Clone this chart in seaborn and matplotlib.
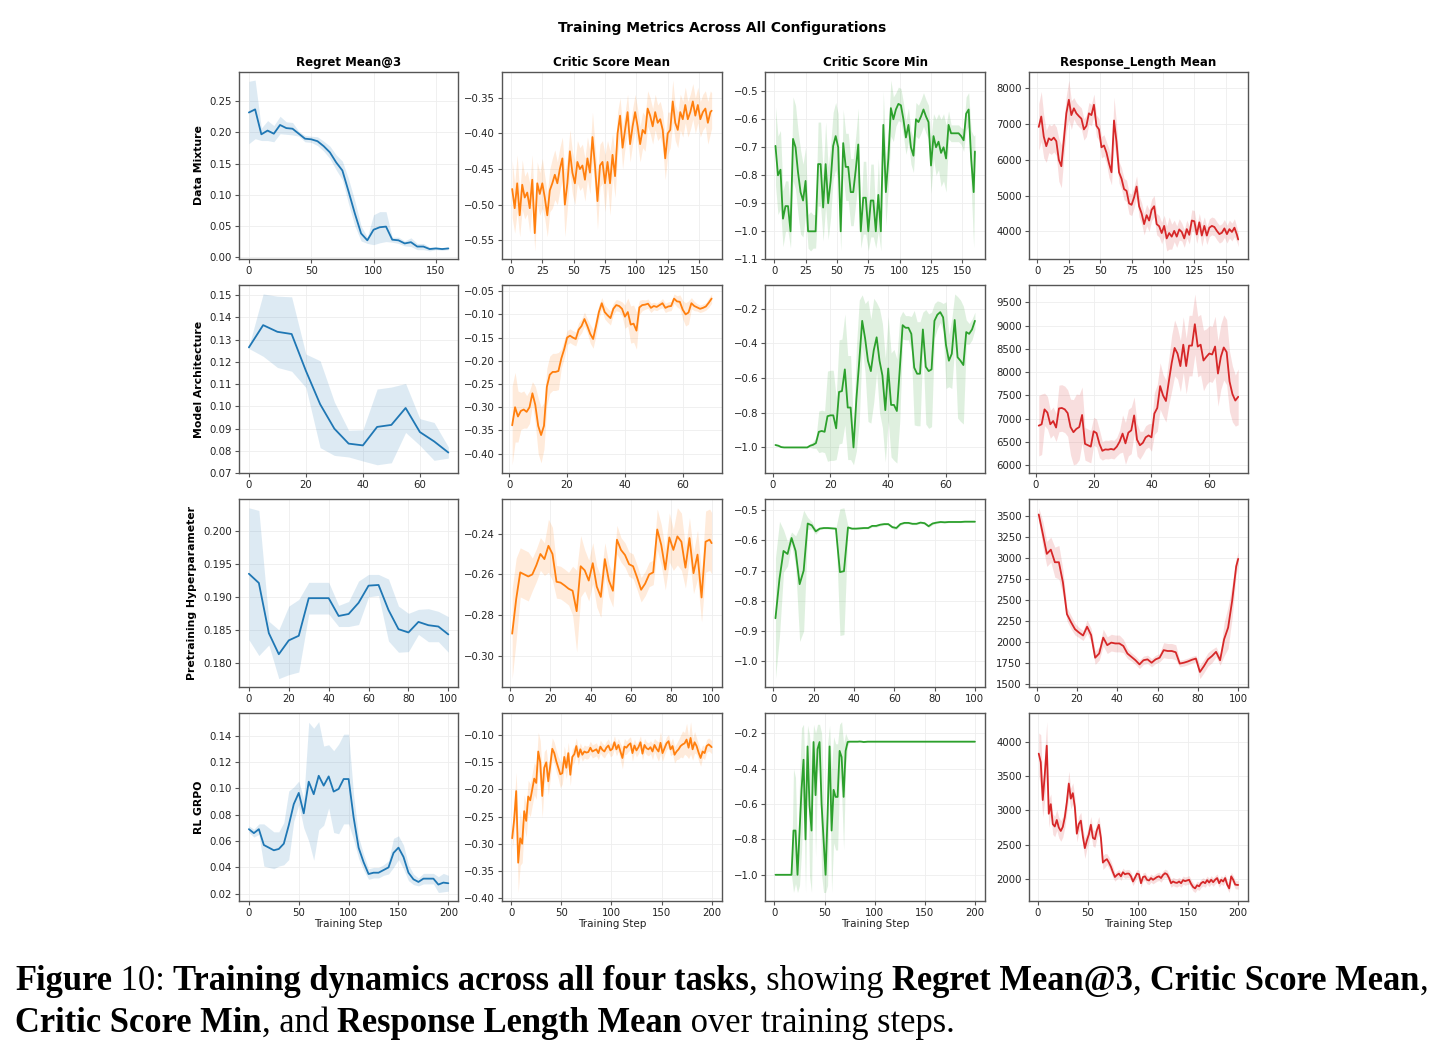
import numpy as np
import matplotlib
matplotlib.use("Agg")
import matplotlib.pyplot as plt
import seaborn as sns
from matplotlib.font_manager import FontProperties

# ---------------------------------------------------------------- data
ROWS = ["Data Mixture", "Model Architecture", "Pretraining Hyperparameter", "RL GRPO"]
COLS = ["Regret Mean@3", "Critic Score Mean", "Critic Score Min", "Response_Length Mean"]
COLORS = ["#1f77b4", "#ff7f0e", "#2ca02c", "#d62728"]

# ---- Data Mixture
DM_REGRET_STEPS = list(range(0, 161, 5))
DM_REGRET = [0.232, 0.237, 0.197, 0.203, 0.198, 0.212, 0.207, 0.206, 0.198, 0.190, 0.189, 0.186, 0.178,
             0.168, 0.152, 0.139, 0.105, 0.070, 0.038, 0.027, 0.044, 0.048, 0.049, 0.028, 0.027, 0.022,
             0.024, 0.017, 0.017, 0.013, 0.014, 0.013, 0.014]
DM_REGRET_SD = [0.050, 0.047, 0.010, 0.016, 0.013, 0.014, 0.010, 0.010, 0.004, 0.005, 0.005, 0.007, 0.008,
                0.010, 0.012, 0.015, 0.020, 0.020, 0.012, 0.005, 0.024, 0.025, 0.024, 0.004, 0.005, 0.004,
                0.007, 0.005, 0.005, 0.003, 0.002, 0.002, 0.002]
DM_STEPS = list(range(1, 160, 2)) + [160]
DM_CMEAN = [-0.478, -0.505, -0.470, -0.515, -0.472, -0.490, -0.483, -0.505, -0.465, -0.540,
            -0.470, -0.485, -0.470, -0.490, -0.515, -0.480, -0.470, -0.458, -0.470, -0.450,
            -0.435, -0.500, -0.470, -0.425, -0.455, -0.470, -0.440, -0.450, -0.445, -0.465,
            -0.435, -0.455, -0.405, -0.445, -0.495, -0.445, -0.440, -0.470, -0.440, -0.470,
            -0.430, -0.460, -0.400, -0.375, -0.420, -0.395, -0.370, -0.415, -0.390, -0.370,
            -0.390, -0.415, -0.395, -0.400, -0.365, -0.375, -0.390, -0.370, -0.385, -0.380,
            -0.395, -0.435, -0.400, -0.395, -0.355, -0.385, -0.395, -0.370, -0.380, -0.360,
            -0.380, -0.370, -0.355, -0.375, -0.360, -0.380, -0.370, -0.365, -0.385, -0.370,
            -0.368]
DM_CMEAN_SD = [0.040, 0.035, 0.040, 0.030, 0.035, 0.030, 0.030, 0.035, 0.035, 0.025,
               0.030, 0.030, 0.035, 0.030, 0.030, 0.030, 0.035, 0.035, 0.030, 0.030,
               0.030, 0.045, 0.035, 0.030, 0.030, 0.030, 0.030, 0.030, 0.030, 0.030,
               0.030, 0.030, 0.035, 0.030, 0.040, 0.030, 0.030, 0.040, 0.030, 0.045,
               0.030, 0.030, 0.030, 0.025, 0.030, 0.025, 0.025, 0.025, 0.025, 0.025,
               0.025, 0.025, 0.025, 0.025, 0.025, 0.025, 0.025, 0.025, 0.025, 0.025,
               0.025, 0.030, 0.030, 0.025, 0.030, 0.025, 0.025, 0.025, 0.025, 0.025,
               0.025, 0.025, 0.025, 0.025, 0.025, 0.025, 0.025, 0.025, 0.030, 0.030,
               0.025]
DM_CMIN = [-0.695, -0.80, -0.78, -0.955, -0.91, -0.91, -1.0, -0.67, -0.70, -0.79,
           -0.86, -0.89, -0.82, -1.0, -1.0, -1.0, -1.0, -0.76, -0.76, -0.915,
           -0.76, -0.90, -0.82, -0.695, -0.66, -0.70, -1.0, -0.685, -0.77, -0.77,
           -0.86, -0.86, -0.78, -0.69, -1.0, -0.88, -0.88, -1.0, -0.89, -0.89,
           -1.0, -0.87, -1.0, -0.62, -0.86, -0.74, -0.56, -0.60, -0.565, -0.545,
           -0.55, -0.60, -0.665, -0.62, -0.70, -0.73, -0.60, -0.61, -0.59, -0.565,
           -0.59, -0.61, -0.765, -0.66, -0.70, -0.68, -0.72, -0.70, -0.74, -0.62,
           -0.65, -0.65, -0.65, -0.65, -0.66, -0.675, -0.58, -0.565, -0.74, -0.86,
           -0.715]
DM_CMIN_SD = [0.14, 0.14, 0.14, 0.10, 0.09, 0.09, 0.06, 0.15, 0.15, 0.15,
              0.15, 0.13, 0.12, 0.06, 0.07, 0.06, 0.06, 0.15, 0.15, 0.12,
              0.15, 0.13, 0.13, 0.12, 0.12, 0.12, 0.07, 0.12, 0.12, 0.12,
              0.12, 0.12, 0.12, 0.13, 0.06, 0.13, 0.13, 0.07, 0.13, 0.13,
              0.06, 0.13, 0.07, 0.12, 0.12, 0.10, 0.10, 0.08, 0.06, 0.06,
              0.06, 0.06, 0.06, 0.06, 0.06, 0.06, 0.06, 0.06, 0.06, 0.06,
              0.06, 0.06, 0.10, 0.08, 0.10, 0.10, 0.12, 0.12, 0.12, 0.05,
              0.03, 0.03, 0.03, 0.03, 0.03, 0.04, 0.06, 0.06, 0.10, 0.20,
              0.06]
DM_RLEN = [6920, 7210, 6650, 6380, 6600, 6550, 6620, 6520, 6000, 5820,
           6550, 7300, 7680, 7250, 7440, 7300, 7220, 7150, 6850, 6950,
           7300, 7250, 7540, 6950, 6850, 6350, 6400, 6200, 5900, 5650,
           7100, 6500, 5650, 5470, 5180, 5130, 4780, 4740, 4950, 5250,
           4700, 4500, 4200, 4450, 4300, 4600, 4700, 4200, 4140, 3950,
           4150, 3800, 3950, 3850, 4010, 3850, 4050, 3980, 3800, 4060,
           3900, 4300, 4280, 3910, 4250, 3880, 4150, 3880, 4100, 4150,
           4120, 4010, 3920, 3960, 4080, 3920, 4060, 3980, 4100, 3900,
           3770]
DM_RLEN_SD = [650, 700, 600, 450, 400, 400, 400, 400, 600, 600,
              500, 500, 550, 400, 300, 300, 300, 300, 300, 300,
              300, 300, 300, 300, 300, 300, 300, 300, 400, 350,
              650, 500, 300, 300, 300, 300, 300, 300, 300, 300,
              300, 300, 300, 300, 300, 300, 300, 300, 300, 300,
              300, 350, 450, 350, 300, 300, 300, 250, 250, 250,
              250, 300, 300, 250, 250, 300, 250, 250, 250, 250,
              250, 250, 250, 250, 250, 250, 250, 250, 250, 200,
              200]

# ---- Model Architecture
MA_REGRET_STEPS = list(range(0, 71, 5))
MA_REGRET = [0.1265, 0.1365, 0.1335, 0.1325, 0.116, 0.101, 0.090, 0.0833, 0.0825, 0.0908, 0.0917,
             0.0993, 0.0885, 0.0843, 0.0793]
MA_REGRET_SD = [0.0005, 0.014, 0.016, 0.0167, 0.0075, 0.0195, 0.012, 0.006, 0.007, 0.017, 0.017,
                0.011, 0.006, 0.0085, 0.0025]
MA_STEPS = list(range(1, 71))
MA_CMEAN = [-0.339, -0.30, -0.32, -0.308, -0.305, -0.31, -0.30, -0.27, -0.295, -0.34,
            -0.36, -0.34, -0.256, -0.23, -0.224, -0.224, -0.222, -0.195, -0.175, -0.15,
            -0.146, -0.15, -0.153, -0.133, -0.125, -0.11, -0.125, -0.142, -0.153, -0.125,
            -0.095, -0.076, -0.095, -0.102, -0.108, -0.088, -0.08, -0.082, -0.088, -0.105,
            -0.095, -0.122, -0.12, -0.135, -0.085, -0.08, -0.079, -0.077, -0.086, -0.082,
            -0.084, -0.08, -0.076, -0.086, -0.083, -0.082, -0.066, -0.072, -0.073, -0.09,
            -0.10, -0.096, -0.076, -0.082, -0.085, -0.088, -0.086, -0.083, -0.075, -0.066]
MA_CMEAN_SD = [0.085, 0.075, 0.055, 0.04, 0.04, 0.035, 0.035, 0.025, 0.04, 0.06,
               0.06, 0.05, 0.04, 0.04, 0.04, 0.04, 0.04, 0.02, 0.02, 0.015,
               0.015, 0.015, 0.015, 0.015, 0.015, 0.015, 0.015, 0.02, 0.02, 0.02,
               0.015, 0.012, 0.015, 0.015, 0.015, 0.012, 0.012, 0.012, 0.015, 0.025,
               0.03, 0.04, 0.04, 0.04, 0.015, 0.012, 0.01, 0.01, 0.01, 0.008,
               0.008, 0.008, 0.01, 0.01, 0.01, 0.01, 0.01, 0.012, 0.015, 0.02,
               0.025, 0.025, 0.012, 0.01, 0.008, 0.008, 0.008, 0.008, 0.01, 0.01]
MA_CMIN = [-0.986, -0.99, -0.998, -1.0, -1.0, -1.0, -1.0, -1.0, -1.0, -1.0,
           -1.0, -1.0, -0.99, -0.985, -0.975, -0.91, -0.905, -0.91, -0.82, -0.815,
           -0.815, -0.89, -0.68, -0.675, -0.55, -0.77, -0.77, -1.0, -0.72, -0.5,
           -0.27, -0.37, -0.50, -0.56, -0.44, -0.365, -0.5, -0.585, -0.785, -0.545,
           -0.755, -0.755, -0.79, -0.55, -0.295, -0.31, -0.31, -0.345, -0.54, -0.575,
           -0.575, -0.32, -0.535, -0.56, -0.55, -0.27, -0.235, -0.22, -0.25, -0.41,
           -0.50, -0.46, -0.265, -0.48, -0.50, -0.525, -0.335, -0.345, -0.32, -0.27]
MA_CMIN_SD = [0.005, 0.005, 0.003, 0.002, 0.002, 0.002, 0.002, 0.002, 0.002, 0.002,
              0.002, 0.002, 0.01, 0.02, 0.03, 0.12, 0.12, 0.12, 0.26, 0.26,
              0.26, 0.18, 0.3, 0.3, 0.32, 0.3, 0.3, 0.1, 0.3, 0.35,
              0.15, 0.2, 0.35, 0.3, 0.3, 0.2, 0.3, 0.3, 0.3, 0.3,
              0.3, 0.32, 0.3, 0.3, 0.08, 0.07, 0.07, 0.1, 0.33, 0.3,
              0.3, 0.1, 0.33, 0.33, 0.33, 0.1, 0.08, 0.06, 0.08, 0.25,
              0.15, 0.2, 0.15, 0.35, 0.35, 0.34, 0.07, 0.06, 0.06, 0.05]
MA_RLEN = [6850, 6880, 7200, 7130, 6880, 6950, 6810, 7220, 7230, 7200,
           7120, 6820, 6710, 6780, 6820, 7080, 6460, 6430, 6400, 6730,
           6690, 6460, 6310, 6340, 6335, 6350, 6335, 6400, 6510, 6680,
           6470, 6700, 6750, 7070, 6550, 6430, 6480, 6600, 6640, 6600,
           7110, 7230, 7700, 7500, 7380, 7800, 8200, 8520, 8400, 8130,
           8590, 8130, 8570, 8570, 9030, 8550, 8590, 8250, 8330, 8400,
           8380, 8550, 7970, 8330, 8530, 8430, 7800, 7530, 7390, 7470]
MA_RLEN_SD = [650, 650, 350, 350, 300, 300, 300, 500, 500, 500,
              500, 600, 700, 750, 700, 600, 350, 350, 350, 300,
              300, 300, 200, 200, 200, 200, 200, 200, 250, 400,
              450, 500, 500, 400, 350, 300, 250, 250, 250, 300,
              450, 500, 500, 450, 450, 500, 600, 600, 550, 550,
              600, 600, 650, 650, 650, 650, 650, 650, 600, 600,
              600, 650, 700, 700, 700, 700, 650, 600, 550, 600]

# ---- Pretraining Hyperparameter
PH_REGRET_STEPS = list(range(0, 101, 5))
PH_REGRET = [0.1935, 0.1921, 0.1845, 0.1813, 0.1834, 0.1841, 0.1898, 0.1898, 0.1898, 0.1871, 0.1874,
             0.1891, 0.1917, 0.1918, 0.1880, 0.1851, 0.1846, 0.1862, 0.1857, 0.1855, 0.1843]
PH_REGRET_SD = [0.010, 0.011, 0.0018, 0.0037, 0.0052, 0.0055, 0.0024, 0.0024, 0.0024, 0.0016, 0.0019,
                0.0033, 0.0017, 0.0016, 0.0047, 0.0035, 0.0029, 0.0019, 0.0025, 0.0023, 0.0027]
PH_STEPS = list(range(1, 100, 2)) + [100]
PH_CMEAN = [-0.289, -0.272, -0.259, -0.260, -0.261, -0.260, -0.2555, -0.250, -0.2525, -0.246,
            -0.250, -0.2636, -0.264, -0.2654, -0.267, -0.268, -0.278, -0.256, -0.258, -0.263,
            -0.2545, -0.266, -0.271, -0.2525, -0.263, -0.268, -0.243, -0.248, -0.2505, -0.255,
            -0.256, -0.2615, -0.2675, -0.2645, -0.260, -0.259, -0.238, -0.2456, -0.2576, -0.2419,
            -0.248, -0.2414, -0.244, -0.2567, -0.2422, -0.2594, -0.2503, -0.2713, -0.244, -0.243,
            -0.2447]
PH_CMEAN_SD = [0.022, 0.02, 0.012, 0.012, 0.012, 0.008, 0.008, 0.008, 0.008, 0.013,
               0.013, 0.008, 0.008, 0.008, 0.008, 0.012, 0.02, 0.015, 0.01, 0.01,
               0.01, 0.01, 0.01, 0.008, 0.008, 0.008, 0.007, 0.006, 0.006, 0.006,
               0.006, 0.006, 0.006, 0.006, 0.006, 0.006, 0.01, 0.01, 0.01, 0.012,
               0.01, 0.014, 0.014, 0.01, 0.01, 0.01, 0.012, 0.012, 0.015, 0.015,
               0.015]
PH_CMIN = [-0.858, -0.727, -0.635, -0.645, -0.592, -0.635, -0.745, -0.70, -0.544, -0.550,
           -0.570, -0.561, -0.559, -0.559, -0.560, -0.561, -0.705, -0.702, -0.557, -0.561,
           -0.561, -0.560, -0.559, -0.559, -0.552, -0.552, -0.548, -0.546, -0.546, -0.556,
           -0.559, -0.546, -0.542, -0.542, -0.545, -0.545, -0.541, -0.543, -0.553, -0.544,
           -0.541, -0.539, -0.540, -0.539, -0.539, -0.539, -0.539, -0.538, -0.538, -0.538,
           -0.538]
PH_CMIN_SD = [0.2, 0.19, 0.07, 0.04, 0.02, 0.05, 0.19, 0.2, 0.02, 0.012,
              0.01, 0.003, 0.003, 0.003, 0.003, 0.003, 0.21, 0.21, 0.004, 0.003,
              0.003, 0.003, 0.003, 0.003, 0.004, 0.004, 0.004, 0.004, 0.004, 0.005,
              0.005, 0.004, 0.003, 0.003, 0.003, 0.003, 0.003, 0.004, 0.005, 0.004,
              0.003, 0.003, 0.003, 0.002, 0.002, 0.002, 0.002, 0.002, 0.002, 0.002,
              0.002]
PH_RLEN = [3520, 3290, 3050, 3100, 2950, 2950, 2710, 2330, 2235, 2150,
           2110, 2075, 2180, 2080, 1810, 1860, 2050, 1960, 1990, 1980,
           1980, 1950, 1860, 1820, 1780, 1730, 1780, 1790, 1750, 1790,
           1810, 1900, 1890, 1890, 1875, 1740, 1750, 1765, 1785, 1800,
           1640, 1710, 1790, 1830, 1880, 1780, 2030, 2170, 2490, 2900,
           2990]
PH_RLEN_SD = [80, 150, 150, 150, 180, 200, 150, 80, 80, 70,
              60, 60, 80, 80, 80, 80, 100, 100, 100, 100,
              100, 80, 60, 50, 50, 50, 50, 50, 50, 50,
              50, 90, 90, 90, 90, 40, 40, 40, 40, 40,
              80, 80, 80, 80, 60, 60, 200, 250, 200, 100,
              80]

# ---- RL GRPO
RL_REGRET_STEPS = list(range(0, 201, 5))
RL_REGRET = [0.069, 0.066, 0.069, 0.057, 0.055, 0.053, 0.054, 0.058, 0.072, 0.088,
             0.0965, 0.081, 0.105, 0.0955, 0.1095, 0.102, 0.109, 0.0975, 0.0995, 0.107,
             0.107, 0.078, 0.055, 0.044, 0.035, 0.036, 0.036, 0.038, 0.040, 0.051,
             0.055, 0.048, 0.036, 0.031, 0.029, 0.0315, 0.0315, 0.0315, 0.027, 0.0285,
             0.028]
RL_REGRET_SD = [0.0025, 0.003, 0.004, 0.016, 0.015, 0.014, 0.013, 0.016, 0.026, 0.013,
                0.009, 0.011, 0.045, 0.05, 0.041, 0.03, 0.024, 0.031, 0.034, 0.034,
                0.034, 0.017, 0.008, 0.006, 0.004, 0.004, 0.004, 0.004, 0.005, 0.011,
                0.009, 0.009, 0.006, 0.004, 0.003, 0.004, 0.004, 0.004, 0.006, 0.007,
                0.006]
RL_STEPS = list(range(1, 200, 2)) + [200]
RL_CMEAN = [-0.290, -0.255, -0.203, -0.335, -0.290, -0.300, -0.240, -0.258, -0.213, -0.220,
            -0.200, -0.180, -0.188, -0.130, -0.150, -0.212, -0.160, -0.150, -0.185, -0.156,
            -0.125, -0.133, -0.148, -0.160, -0.172, -0.170, -0.140, -0.160, -0.133, -0.173,
            -0.140, -0.135, -0.120, -0.140, -0.126, -0.136, -0.130, -0.132, -0.131, -0.123,
            -0.130, -0.128, -0.126, -0.133, -0.121, -0.127, -0.130, -0.123, -0.119, -0.128,
            -0.125, -0.113, -0.126, -0.118, -0.130, -0.142, -0.121, -0.123, -0.118, -0.115,
            -0.133, -0.119, -0.128, -0.122, -0.113, -0.134, -0.118, -0.124, -0.126, -0.122,
            -0.130, -0.118, -0.125, -0.130, -0.114, -0.133, -0.124, -0.115, -0.111, -0.126,
            -0.120, -0.136, -0.130, -0.126, -0.120, -0.117, -0.115, -0.108, -0.123, -0.105,
            -0.126, -0.113, -0.120, -0.132, -0.142, -0.130, -0.133, -0.120, -0.117, -0.120,
            -0.122]
RL_CMEAN_SD = [0.02, 0.03, 0.035, 0.055, 0.05, 0.035, 0.03, 0.03, 0.03, 0.03,
               0.03, 0.03, 0.03, 0.035, 0.04, 0.04, 0.03, 0.025, 0.025, 0.025,
               0.02, 0.02, 0.02, 0.02, 0.025, 0.02, 0.02, 0.02, 0.02, 0.02,
               0.015, 0.015, 0.015, 0.015, 0.012, 0.012, 0.012, 0.012, 0.012, 0.012,
               0.012, 0.012, 0.012, 0.012, 0.012, 0.012, 0.012, 0.012, 0.012, 0.012,
               0.012, 0.012, 0.012, 0.012, 0.015, 0.02, 0.015, 0.012, 0.012, 0.012,
               0.015, 0.012, 0.012, 0.012, 0.012, 0.012, 0.012, 0.012, 0.012, 0.012,
               0.015, 0.012, 0.015, 0.018, 0.02, 0.015, 0.012, 0.012, 0.012, 0.012,
               0.015, 0.015, 0.015, 0.018, 0.02, 0.025, 0.02, 0.03, 0.02, 0.03,
               0.02, 0.02, 0.015, 0.015, 0.015, 0.012, 0.012, 0.012, 0.012, 0.012,
               0.012]
RL_CMIN = [-1.0, -1.0, -1.0, -1.0, -1.0, -1.0, -1.0, -1.0, -1.0, -0.75,
           -0.75, -1.0, -0.76, -0.52, -0.35, -0.80, -0.275, -0.61, -0.75, -0.25,
           -0.55, -0.29, -0.25, -0.60, -0.80, -1.0, -0.66, -0.275, -0.75, -0.52,
           -0.56, -0.56, -0.30, -0.335, -0.56, -0.30, -0.25, -0.248, -0.248, -0.248,
           -0.248, -0.248, -0.247, -0.248, -0.250, -0.249, -0.248, -0.248, -0.248, -0.248,
           -0.248, -0.248, -0.248, -0.248, -0.248, -0.248, -0.248, -0.248, -0.248, -0.248,
           -0.248, -0.248, -0.248, -0.248, -0.248, -0.248, -0.248, -0.248, -0.248, -0.248,
           -0.248, -0.248, -0.248, -0.248, -0.248, -0.248, -0.248, -0.248, -0.248, -0.248,
           -0.248, -0.248, -0.248, -0.248, -0.248, -0.248, -0.248, -0.248, -0.248, -0.248,
           -0.248, -0.248, -0.248, -0.248, -0.248, -0.248, -0.248, -0.248, -0.248, -0.248,
           -0.248]
RL_CMIN_SD = [0.002, 0.002, 0.002, 0.002, 0.002, 0.002, 0.002, 0.002, 0.002, 0.35,
              0.3, 0.1, 0.3, 0.35, 0.2, 0.3, 0.12, 0.4, 0.35, 0.1,
              0.35, 0.14, 0.1, 0.4, 0.3, 0.1, 0.4, 0.12, 0.35, 0.3,
              0.3, 0.3, 0.15, 0.2, 0.3, 0.1, 0.02, 0.003, 0.003, 0.003,
              0.003, 0.003, 0.003, 0.003, 0.003, 0.003, 0.003, 0.003, 0.003, 0.003,
              0.003, 0.003, 0.003, 0.003, 0.003, 0.003, 0.003, 0.003, 0.003, 0.003,
              0.003, 0.003, 0.003, 0.003, 0.003, 0.003, 0.003, 0.003, 0.003, 0.003,
              0.003, 0.003, 0.003, 0.003, 0.003, 0.003, 0.003, 0.003, 0.003, 0.003,
              0.003, 0.003, 0.003, 0.003, 0.003, 0.003, 0.003, 0.003, 0.003, 0.003,
              0.003, 0.003, 0.003, 0.003, 0.003, 0.003, 0.003, 0.003, 0.003, 0.003,
              0.003]
RL_RLEN = [3825, 3700, 3150, 3515, 3940, 2950, 3090, 2800, 2765, 2860,
           2750, 2700, 2760, 2900, 3115, 3390, 3170, 3250, 3050, 2660,
           2800, 2850, 2620, 2450, 2560, 2650, 2790, 2600, 2580, 2710,
           2790, 2600, 2240, 2270, 2290, 2240, 2180, 2100, 2030, 2060,
           2080, 2040, 2100, 2070, 2080, 2080, 2040, 1965, 2020, 2080,
           2070, 1940, 2030, 2040, 1990, 1980, 2015, 1990, 2010, 2030,
           2040, 2015, 2060, 2085, 2070, 2015, 1940, 1965, 1950, 1945,
           1965, 1940, 1985, 1970, 1980, 1990, 1930, 1885, 1865, 1910,
           1895, 1940, 1960, 1940, 1985, 1950, 1990, 1955, 1990, 2015,
           1940, 1990, 1965, 2015, 1920, 1865, 2040, 1990, 1920, 1915,
           1915]
RL_RLEN_SD = [300, 400, 250, 350, 350, 200, 150, 150, 150, 150,
              150, 150, 150, 150, 150, 180, 150, 150, 150, 120,
              120, 120, 120, 150, 120, 120, 120, 120, 120, 120,
              120, 120, 100, 100, 80, 80, 80, 80, 60, 60,
              60, 60, 60, 60, 60, 60, 60, 60, 60, 60,
              60, 60, 60, 60, 60, 60, 60, 60, 60, 60,
              60, 60, 60, 60, 60, 60, 60, 60, 60, 60,
              60, 60, 60, 60, 60, 60, 60, 60, 60, 60,
              60, 60, 60, 60, 60, 60, 60, 60, 60, 60,
              60, 60, 60, 60, 60, 60, 60, 60, 60, 60,
              60]

XTICKS = [
    [[0, 50, 100, 150], [0, 25, 50, 75, 100, 125, 150], [0, 25, 50, 75, 100, 125, 150], [0, 25, 50, 75, 100, 125, 150]],
    [[0, 20, 40, 60]] * 4,
    [[0, 20, 40, 60, 80, 100]] * 4,
    [[0, 50, 100, 150, 200]] * 4,
]

PANELS = [
    [(DM_REGRET_STEPS, DM_REGRET, DM_REGRET_SD), (DM_STEPS, DM_CMEAN, DM_CMEAN_SD),
     (DM_STEPS, DM_CMIN, DM_CMIN_SD), (DM_STEPS, DM_RLEN, DM_RLEN_SD)],
    [(MA_REGRET_STEPS, MA_REGRET, MA_REGRET_SD), (MA_STEPS, MA_CMEAN, MA_CMEAN_SD),
     (MA_STEPS, MA_CMIN, MA_CMIN_SD), (MA_STEPS, MA_RLEN, MA_RLEN_SD)],
    [(PH_REGRET_STEPS, PH_REGRET, PH_REGRET_SD), (PH_STEPS, PH_CMEAN, PH_CMEAN_SD),
     (PH_STEPS, PH_CMIN, PH_CMIN_SD), (PH_STEPS, PH_RLEN, PH_RLEN_SD)],
    [(RL_REGRET_STEPS, RL_REGRET, RL_REGRET_SD), (RL_STEPS, RL_CMEAN, RL_CMEAN_SD),
     (RL_STEPS, RL_CMIN, RL_CMIN_SD), (RL_STEPS, RL_RLEN, RL_RLEN_SD)],
]

CAPTION_LINE1 = [("Figure", True), (" 10: ", False), ("Training dynamics across all four tasks", True),
                 (", showing ", False), ("Regret Mean@3", True), (", ", False),
                 ("Critic Score Mean", True), (",", False)]
CAPTION_LINE2 = [("Critic Score Min", True), (", and ", False), ("Response Length Mean", True),
                 (" over training steps.", False)]

# ---------------------------------------------------------------- style
sns.set_style("whitegrid", {"grid.color": "#eeeeee", "axes.edgecolor": "#555555"})
plt.rcParams["font.family"] = ["DejaVu Sans"]
plt.rcParams["axes.linewidth"] = 1.0
plt.rcParams["grid.linewidth"] = 0.6

W, H = 1448, 1052
fig, axes = plt.subplots(4, 4, figsize=(W / 100, H / 100), dpi=100)
fig.subplots_adjust(left=0.165, right=0.862, top=0.932, bottom=0.1435, wspace=0.2, hspace=0.138)

for i in range(4):
    for j in range(4):
        ax = axes[i, j]
        xs, ys, sd = PANELS[i][j]
        x = np.asarray(xs, dtype=float)
        y = np.asarray(ys, dtype=float)
        s = np.asarray(sd, dtype=float)
        c = COLORS[j]
        ax.fill_between(x, y - s, y + s, color=c, alpha=0.15, linewidth=0)
        sns.lineplot(x=x, y=y, ax=ax, color=c, linewidth=1.3)
        ax.set_xticks(XTICKS[i][j])
        ax.tick_params(axis="both", labelsize=7.3, bottom=True, left=True, length=3, width=0.8,
                       color="#555555", labelcolor="#222222", pad=2)
        ax.grid(True, color="#eeeeee", linewidth=0.6)
        for sp in ax.spines.values():
            sp.set_color("#555555")
            sp.set_linewidth(1.0)
        if i == 0:
            ax.set_title(COLS[j], fontsize=8.5, fontweight="bold", pad=4, color="black")
        if j == 0:
            ax.set_ylabel(ROWS[i], fontsize=7.8, fontweight="bold", color="black")
        else:
            ax.set_ylabel("")
        if i == 3:
            ax.set_xlabel("Training Step", fontsize=7.5, labelpad=1, color="#222222")
        else:
            ax.set_xlabel("")

fig.suptitle("Training Metrics Across All Configurations", x=0.4986, y=0.9735, va="center",
             fontsize=10, fontweight="bold", color="black")

# ---------------------------------------------------------------- caption
renderer = fig.canvas.get_renderer()


def fprop(bold, size):
    return FontProperties(family="Liberation Serif", weight="bold" if bold else "normal", size=size)


def seg_width(text, bold, size):
    fp = fprop(bold, size)
    w1, _, _ = renderer.get_text_width_height_descent("|" + text + "|", fp, ismath=False)
    w0, _, _ = renderer.get_text_width_height_descent("||", fp, ismath=False)
    return w1 - w0


base = 24.0
total = sum(seg_width(t, b, base) for t, b in CAPTION_LINE1)
size = base * 1417.0 / total


def draw_line(segments, y_px):
    xpx = 15.0
    for t, b in segments:
        fig.text(xpx / W, 1 - y_px / H, t, fontproperties=fprop(b, size), ha="left",
                 va="baseline", color="black")
        xpx += seg_width(t, b, size)


draw_line(CAPTION_LINE1, 990)
draw_line(CAPTION_LINE2, 1032)

fig.savefig("out.png", dpi=100)
